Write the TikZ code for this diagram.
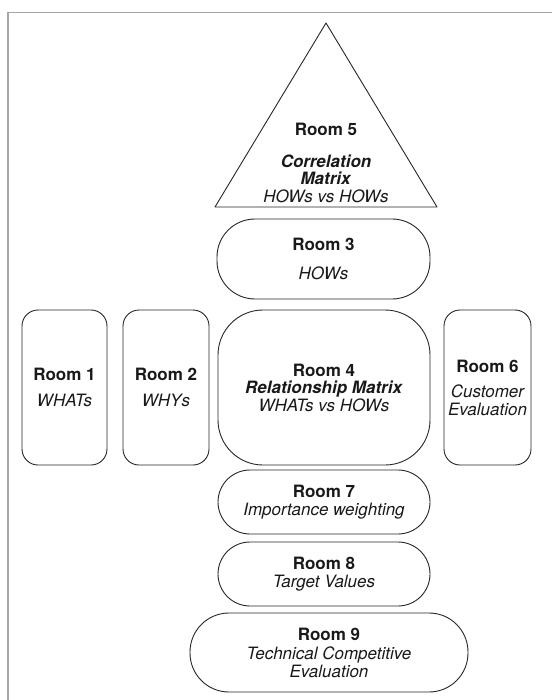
\documentclass[tikz,border=0pt]{standalone}
\usepackage{fontspec}
\setmainfont{TeX Gyre Heros}
\begin{document}
\begin{tikzpicture}[x=1pt,y=-1pt,line width=.9pt,
  every node/.style={font=\fontsize{17}{17.5}\selectfont,inner sep=1pt,align=center,text=black!90},
  room/.style={draw=black!85,rounded corners=16,minimum width=86,minimum height=155}]
  \path[use as bounding box] (0,0) rectangle (552,700);
  \draw[black!35,line width=1.6pt] (8,700)--(8,12.5)--(552,12.5);
  % room 5, the roof
  \coordinate (T) at (326,23);
  \coordinate (L) at (215,207);
  \coordinate (R) at (437,207);
  \draw[black!85,line join=round] (L)--(T)--(R)--cycle;
  \node (r5) at (326,163) {\textbf{Room 5}\\[14pt]\textbf{\itshape Correlation}\\\textbf{\itshape Matrix}\\\itshape HOWs vs HOWs};
  \node[room,minimum width=213,minimum height=80,rounded corners=38] (r3) at (323.5,259) {\textbf{Room 3}\\[11pt]\itshape HOWs};
  \node[room,minimum width=85] (r1) at (64.5,387.5) {\textbf{Room 1}\\[8pt]\itshape WHATs};
  \node[room] (r2) at (166,387.5) {\textbf{Room 2}\\[8pt]\itshape WHYs};
  \node[room,minimum width=212,rounded corners=45] (r4) at (324,387.5) {\textbf{Room 4}\\\textbf{\itshape Relationship Matrix}\\\itshape WHATs vs HOWs};
  \node[room,minimum width=87] (r6) at (487.5,387.5) {\textbf{Room 6}\\[8pt]\itshape Customer\\\itshape Evaluation};
  \node[room,minimum width=212,minimum height=64,rounded corners=32] (r7) at (324,502) {\textbf{Room 7}\\\itshape Importance weighting};
  \node[room,minimum width=212,minimum height=64,rounded corners=32] (r8) at (324,574) {\textbf{Room 8}\\[1pt]\itshape Target Values};
  \node[room,minimum width=278,minimum height=79,rounded corners=39] (r9) at (329,652.5) {\textbf{Room 9}\\[2pt]\itshape Technical Competitive\\\itshape Evaluation};
\end{tikzpicture}
\end{document}
